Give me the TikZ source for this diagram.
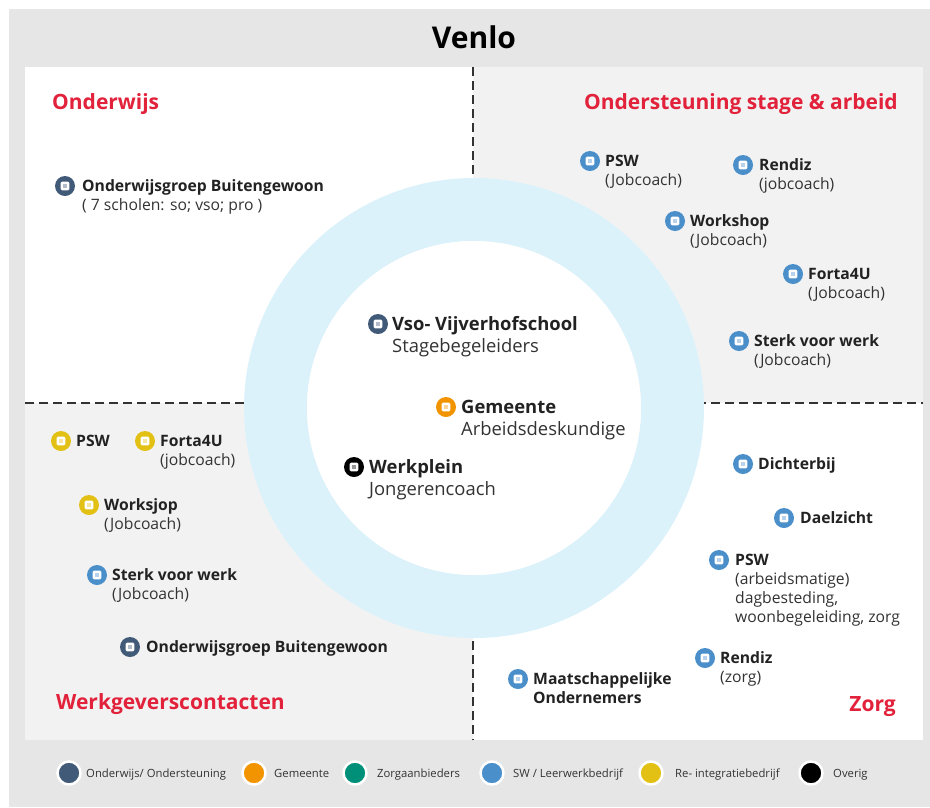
\documentclass[tikz,border=0pt]{standalone}
\usepackage{fontspec}
\setmainfont{Open Sans}
\definecolor{outergray}{HTML}{E6E6E6}
\definecolor{quadgray}{HTML}{F2F2F2}
\definecolor{ringblue}{HTML}{DCF2FB}
\definecolor{hred}{HTML}{E2213B}
\definecolor{cdark}{HTML}{415A78}
\definecolor{corange}{HTML}{F29400}
\definecolor{cteal}{HTML}{00907A}
\definecolor{cblue}{HTML}{4A8FCA}
\definecolor{cyellow}{HTML}{E3C114}
\definecolor{txt}{HTML}{222222}
\definecolor{txtb}{HTML}{333333}
\tikzset{
  ico/.style={circle, fill=#1, minimum size=20pt, inner sep=0pt,
    path picture={\fill[white, rounded corners=1.3pt]
      ([shift={(-4.3pt,-4.3pt)}]path picture bounding box.center) rectangle
      ([shift={(4.3pt,4.3pt)}]path picture bounding box.center);
      \fill[#1!40!white]
      ([shift={(-1.7pt,-1.7pt)}]path picture bounding box.center) rectangle
      ([shift={(1.7pt,1.7pt)}]path picture bounding box.center);}},
  ttl/.style={anchor=base west, inner sep=0pt, text=txt, font=\fontsize{15.7}{19}\selectfont\bfseries},
  sub/.style={anchor=base west, inner sep=0pt, text=txtb, font=\fontsize{15.7}{19}\selectfont},
  cttl/.style={anchor=base west, inner sep=0pt, text=txt, font=\fontsize{18.4}{22}\selectfont\bfseries},
  csub/.style={anchor=base west, inner sep=0pt, text=txtb, font=\fontsize{18.4}{22}\selectfont},
  head/.style={inner sep=0pt, text=hred, font=\fontsize{21}{25}\selectfont\bfseries},
  legdot/.style={circle, fill=#1, draw=white, line width=2.5pt, minimum size=23pt, inner sep=0pt},
  legtxt/.style={anchor=base west, inner sep=0pt, text=txtb, font=\fontsize{11.3}{13}\selectfont},
  divider/.style={draw=black!80, line width=1.1pt, dash pattern=on 9pt off 5pt}
}
\begin{document}
\begin{tikzpicture}[x=1pt,y=-1pt]
\useasboundingbox (0,0) rectangle (930,807);
\fill[white] (0,0) rectangle (930,807);
\fill[outergray] (9,9) rectangle (930,807);
% quadrants
\fill[white] (25,67) rectangle (473,403);
\fill[quadgray] (473,67) rectangle (923,403);
\fill[quadgray] (25,403) rectangle (473,740);
\fill[white] (473,403) rectangle (923,740);
% dividers
\draw[divider] (473,67) -- (473,740);
\draw[divider] (25,403) -- (923,403);
% ring
\fill[ringblue, even odd rule] (474,408) circle (230pt) (474,408) circle (167pt);
\fill[white] (474,408) circle (167pt);

% title
\node[inner sep=0pt, text=black, font=\fontsize{30}{34}\selectfont\bfseries] (title) at (474,37) {Venlo};

% headings
\node[head, anchor=base west] (h-ow) at (52,109) {Onderwijs};
\node[head, anchor=base east] (h-osa) at (898,109) {Ondersteuning stage \& arbeid};
\node[head, anchor=base west] (h-wgc) at (56,709) {Werkgeverscontacten};
\node[head, anchor=base east] (h-zorg) at (896,711) {Zorg};

% top-left
\node[ico=cdark] (ob1-i) at (65,186) {};
\node[ttl] (ob1) at (82,191.5) {Onderwijsgroep Buitengewoon};
\node[sub] (ob1-s) at (82,210.5) {( 7 scholen: so; vso; pro )};

% top-right
\node[ico=cblue] (psw1-i) at (590,161) {};
\node[ttl] (psw1) at (605,166.5) {PSW};
\node[sub] (psw1-s) at (605,185.5) {(Jobcoach)};
\node[ico=cblue] (ren1-i) at (743,165) {};
\node[ttl] (ren1) at (759,170.5) {Rendiz};
\node[sub] (ren1-s) at (759,189.5) {(jobcoach)};
\node[ico=cblue] (ws-i) at (675,221) {};
\node[ttl] (ws) at (690,226.5) {Workshop};
\node[sub] (ws-s) at (690,245.5) {(Jobcoach)};
\node[ico=cblue] (f4u1-i) at (793,274) {};
\node[ttl] (f4u1) at (808,279.5) {Forta4U};
\node[sub] (f4u1-s) at (808,298.5) {(Jobcoach)};
\node[ico=cblue] (svw1-i) at (739,341) {};
\node[ttl] (svw1) at (754,346.5) {Sterk voor werk};
\node[sub] (svw1-s) at (754,365.5) {(Jobcoach)};

% center
\node[ico=cdark] (vso-i) at (378,324) {};
\node[cttl] (vso) at (392,330.5) {Vso- Vijverhofschool};
\node[csub] (vso-s) at (392,352.5) {Stagebegeleiders};
\node[ico=corange] (gem-i) at (446,407) {};
\node[cttl] (gem) at (461,413.5) {Gemeente};
\node[csub] (gem-s) at (461,435.5) {Arbeidsdeskundige};
\node[ico=black] (wp-i) at (354,467) {};
\node[cttl] (wp) at (369,473.5) {Werkplein};
\node[csub] (wp-s) at (369,495.5) {Jongerencoach};

% bottom-left
\node[ico=cyellow] (psw2-i) at (61,441) {};
\node[ttl] (psw2) at (76,446.5) {PSW};
\node[ico=cyellow] (f4u2-i) at (145,441) {};
\node[ttl] (f4u2) at (160,446.5) {Forta4U};
\node[sub] (f4u2-s) at (160,465.5) {(jobcoach)};
\node[ico=cyellow] (wsj-i) at (89,505) {};
\node[ttl] (wsj) at (104,510.5) {Worksjop};
\node[sub] (wsj-s) at (104,529.5) {(Jobcoach)};
\node[ico=cblue] (svw2-i) at (97,575) {};
\node[ttl] (svw2) at (112,580.5) {Sterk voor werk};
\node[sub] (svw2-s) at (112,599.5) {(Jobcoach)};
\node[ico=cdark] (ob2-i) at (130,647) {};
\node[ttl] (ob2) at (146,652.5) {Onderwijsgroep Buitengewoon};

% bottom-right
\node[ico=cblue] (dic-i) at (743,464) {};
\node[ttl] (dic) at (758,469.5) {Dichterbij};
\node[ico=cblue] (dae-i) at (784,518) {};
\node[ttl] (dae) at (800,523.5) {Daelzicht};
\node[ico=cblue] (psw3-i) at (719,560) {};
\node[ttl] (psw3) at (735,565.5) {PSW};
\node[sub] (psw3-s1) at (735,584.5) {(arbeidsmatige)};
\node[sub] (psw3-s2) at (735,603.5) {dagbesteding,};
\node[sub] (psw3-s3) at (735,622.5) {woonbegeleiding, zorg};
\node[ico=cblue] (ren2-i) at (705,658) {};
\node[ttl] (ren2) at (720,663.5) {Rendiz};
\node[sub] (ren2-s) at (720,682.5) {(zorg)};
\node[ico=cblue] (mo-i) at (518,679) {};
\node[ttl] (mo) at (533,684.5) {Maatschappelijke};
\node[ttl] (mo2) at (533,703) {Ondernemers};

% legend
\node[legdot=cdark] (l1) at (69,773) {};
\node[legtxt] (l1t) at (86,777) {Onderwijs/ Ondersteuning};
\node[legdot=corange] (l2) at (254,773) {};
\node[legtxt] (l2t) at (274,777) {Gemeente};
\node[legdot=cteal] (l3) at (355,773) {};
\node[legtxt] (l3t) at (377,777) {Zorgaanbieders};
\node[legdot=cblue] (l4) at (492,773) {};
\node[legtxt] (l4t) at (513,777) {SW / Leerwerkbedrijf};
\node[legdot=cyellow] (l5) at (651,773) {};
\node[legtxt] (l5t) at (675,777) {Re- integratiebedrijf};
\node[legdot=black] (l6) at (811,773) {};
\node[legtxt] (l6t) at (833,777) {Overig};
\end{tikzpicture}
\end{document}
